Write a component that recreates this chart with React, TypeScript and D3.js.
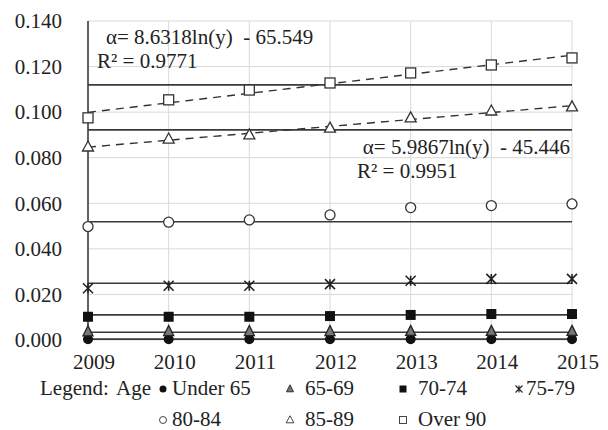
import React from "react";
import * as d3 from "d3";

// data
const years = [2009, 2010, 2011, 2012, 2013, 2014, 2015];
const yTicks = [0, 0.02, 0.04, 0.06, 0.08, 0.1, 0.12, 0.14];

const under65 = [0.0003, 0.0003, 0.0003, 0.0003, 0.0003, 0.0003, 0.0003];
const age6569 = [0.0036, 0.0037, 0.0037, 0.0037, 0.0038, 0.0038, 0.0038];
const age7074 = [0.0102, 0.0102, 0.0102, 0.0105, 0.011, 0.0114, 0.0114];
const age7579 = [0.0227, 0.0238, 0.0238, 0.0245, 0.026, 0.0268, 0.0268];
const age8084 = [0.0498, 0.0517, 0.0527, 0.0549, 0.0581, 0.059, 0.0597];
const age8589 = [0.0847, 0.0882, 0.09, 0.093, 0.0975, 0.1005, 0.1023];
const over90 = [0.0975, 0.1054, 0.1097, 0.1128, 0.1172, 0.1207, 0.1238];

// flat reference lines drawn across each series
const levels = [0.0004, 0.0034, 0.011, 0.0249, 0.0519, 0.0922, 0.112];

const seriesNames = ["Under 65", "65-69", "70-74", "75-79", "80-84", "85-89", "Over 90"];
const seriesValues = [under65, age6569, age7074, age7579, age8084, age8589, over90];
const markerKinds = ["dot", "tri", "sqr", "star", "circ", "otri", "osqr"];

const trend1 = ["α= 8.6318ln(y)  - 65.549", "R² = 0.9771"];
const trend2 = ["α= 5.9867ln(y)  - 45.446", "R² = 0.9951"];

const FONT = "Liberation Serif";

// log fit y = a ln(x) + b
function logFit(xs: number[], ys: number[]) {
  const lx = xs.map(Math.log);
  const mx = d3.mean(lx)!;
  const my = d3.mean(ys)!;
  const a =
    d3.sum(lx, (v, i) => (v - mx) * (ys[i] - my)) / d3.sum(lx, (v) => (v - mx) ** 2);
  return { a, b: my - a * mx };
}

const Marker = ({ kind, x, y, s = 1 }: { kind: string; x: number; y: number; s?: number }) => {
  const t = `translate(${x},${y}) scale(${s})`;
  switch (kind) {
    case "dot":
      return <circle transform={t} r={5} fill="#111" />;
    case "circ":
      return <circle transform={t} r={5} fill="#fff" stroke="#333" strokeWidth={1.3} />;
    case "tri":
      return <path transform={t} d="M0,-6L5,4L-5,4Z" fill="#777" stroke="#222" strokeWidth={1.3} />;
    case "otri":
      return <path transform={t} d="M0,-6L5.5,4L-5.5,4Z" fill="#fff" stroke="#333" strokeWidth={1.3} />;
    case "sqr":
      return <rect transform={t} x={-5} y={-5} width={10} height={10} fill="#111" />;
    case "osqr":
      return <rect transform={t} x={-5} y={-5} width={10} height={10} fill="#fff" stroke="#333" strokeWidth={1.3} />;
    case "star":
      return (
        <path transform={t} d="M-5,-5L5,5M5,-5L-5,5M0,-5L0,5" stroke="#222" strokeWidth={1.6} fill="none" />
      );
    default:
      return null;
  }
};

export default function App() {
  const left = 88;
  const right = 572;
  const top = 21;
  const bottom = 340;

  const x = d3.scaleLinear().domain([2009, 2015]).range([left, right]);
  const y = d3.scaleLinear().domain([0, 0.14]).range([bottom, top]);

  const trendSeries = [over90, age8589];
  const trendLines = trendSeries.map((vals) => {
    const { a, b } = logFit(years, vals);
    const pts = d3.range(2009, 2015.001, 0.25).map((yr) => [yr, a * Math.log(yr) + b] as [number, number]);
    return d3
      .line<[number, number]>()
      .x((d) => x(d[0]))
      .y((d) => y(d[1]))(pts)!;
  });

  const legendRows = [
    [0, 1, 2, 3],
    [4, 5, 6],
  ];
  const legendMarkerX = [163, 290, 403, 519];
  const legendTextX = [172, 305, 418, 526];
  const legendRowY = [395, 426];

  const txt = { fontFamily: FONT, fontSize: 21, fill: "#222", whiteSpace: "pre" as const };

  return (
    <svg width={608} height={430} style={{ position: "absolute", left: 0, top: 0, background: "#fff" }}>
      {/* grid */}
      {yTicks.map((t) => (
        <line key={"h" + t} x1={left} x2={right} y1={y(t)} y2={y(t)} stroke="#d9d9d9" strokeWidth={1} />
      ))}
      {years.map((yr) => (
        <line key={"v" + yr} x1={x(yr)} x2={x(yr)} y1={top} y2={bottom} stroke="#d9d9d9" strokeWidth={1} />
      ))}
      <line x1={left} x2={left} y1={top} y2={bottom} stroke="#333" strokeWidth={1.5} />

      {/* flat level lines */}
      {levels.map((lv, i) => (
        <line key={"l" + i} x1={left} x2={right} y1={y(lv)} y2={y(lv)} stroke="#3a3a3a" strokeWidth={1.7} />
      ))}

      {/* trend lines */}
      {trendLines.map((d, i) => (
        <path key={"t" + i} d={d} fill="none" stroke="#333" strokeWidth={1.4} strokeDasharray="8,6" />
      ))}

      {/* markers */}
      {seriesValues.map((vals, si) =>
        vals.map((v, i) => <Marker key={si + "-" + i} kind={markerKinds[si]} x={x(years[i])} y={y(v)} />)
      )}

      {/* y axis labels */}
      {yTicks.map((t) => (
        <text key={"yl" + t} x={62} y={y(t)} dy="0.35em" textAnchor="end" style={txt}>
          {d3.format(".3f")(t)}
        </text>
      ))}
      {/* x axis labels */}
      {years.map((yr) => (
        <text key={"xl" + yr} x={x(yr) + 6} y={369} textAnchor="middle" style={txt}>
          {yr}
        </text>
      ))}

      {/* equations */}
      <text x={106} y={44} style={txt}>
        {trend1[0]}
      </text>
      <text x={97} y={68} style={txt}>
        {trend1[1]}
      </text>
      <text x={570} y={154} textAnchor="end" style={txt}>
        {trend2[0]}
      </text>
      <text x={357} y={178} style={txt}>
        {trend2[1]}
      </text>

      {/* legend */}
      <text x={40} y={legendRowY[0]} style={txt}>
        Legend:
      </text>
      <text x={151} y={legendRowY[0]} textAnchor="end" style={txt}>
        Age
      </text>
      {legendRows.map((row, ri) =>
        row.map((si, ci) => (
          <g key={"lg" + si}>
            <Marker kind={markerKinds[si]} x={legendMarkerX[ci]} y={legendRowY[ri] - 6} s={0.7} />
            <text x={legendTextX[ci]} y={legendRowY[ri]} style={txt}>
              {seriesNames[si]}
            </text>
          </g>
        ))
      )}
    </svg>
  );
}
